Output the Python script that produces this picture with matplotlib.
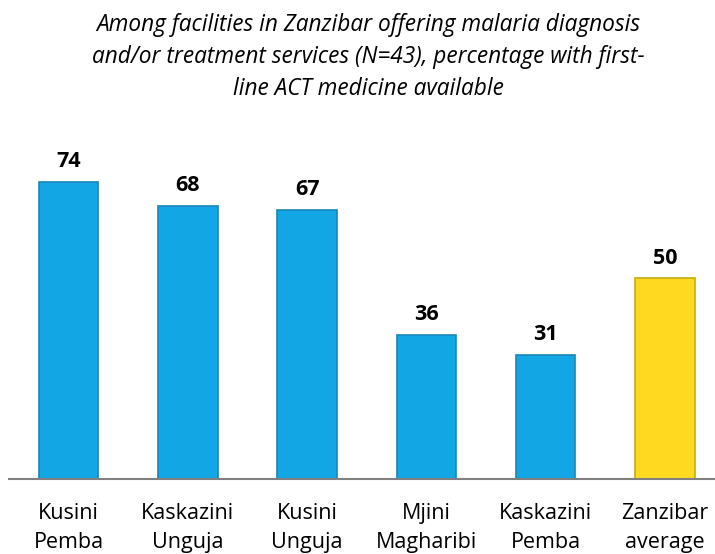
import matplotlib
matplotlib.use("Agg")
import matplotlib.pyplot as plt

categories = ["Kusini\nPemba", "Kaskazini\nUnguja", "Kusini\nUnguja", "Mjini\nMagharibi", "Kaskazini\nPemba", "Zanzibar\naverage"]
values = [74, 68, 67, 36, 31, 50]
colors = ["#12A6E4"] * 5 + ["#FFD920"]
edges = ["#1A86B8"] * 5 + ["#C9AA10"]
title = "Among facilities in Zanzibar offering malaria diagnosis\nand/or treatment services (N=43), percentage with first-\nline ACT medicine available"

plt.rcParams['font.family'] = ['Open Sans', 'DejaVu Sans']

W, H = 715, 554
fig = plt.figure(figsize=(W/100, H/100), dpi=100)
ax = fig.add_axes([9/W, (H-479)/H, 1 - 9/W, (479-140)/H])
x = list(range(len(values)))
ax.bar(x, values, width=0.5, color=colors, edgecolor=edges, linewidth=1.2, zorder=2)
ax.set_xlim(-0.5, 5.42)
ax.set_ylim(0, 84.5)
for xi, v in zip(x, values):
    ax.annotate(str(v), (xi, v), xytext=(0, 7), textcoords="offset points",
                ha="center", va="bottom", fontsize=15.5, fontweight="bold", color="black")
for s in ["top", "right", "left"]:
    ax.spines[s].set_visible(False)
ax.spines["bottom"].set_color("#808080")
ax.spines["bottom"].set_linewidth(1.5)
ax.set_yticks([])
ax.set_xticks(x)
ax.set_xticklabels(categories, fontsize=15.5, linespacing=1.55)
ax.tick_params(axis="x", length=0, pad=17)
fig.text(368/W, 1 - 13/H, title, ha="center", va="top", fontsize=16.3, style="italic", linespacing=1.45)
fig.savefig("out.png", dpi=100)
